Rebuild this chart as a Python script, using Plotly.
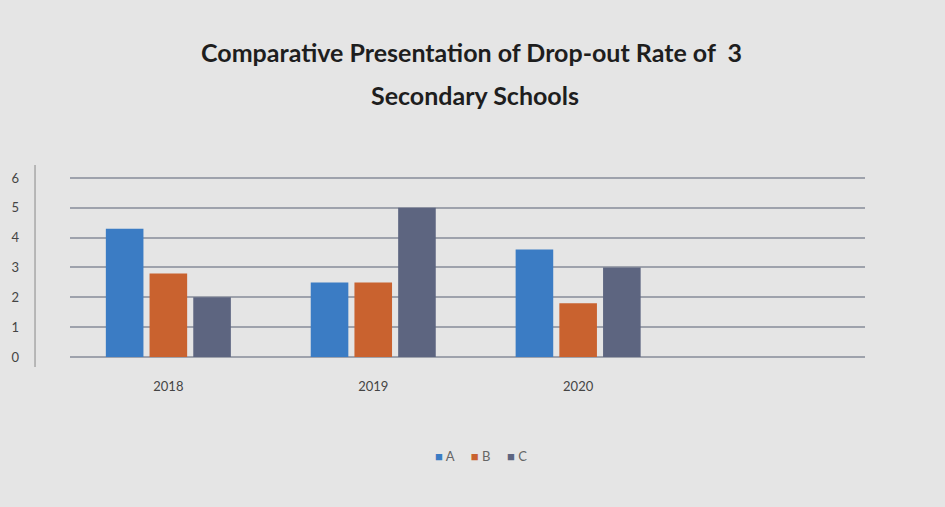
import plotly.graph_objects as go

years = ["2018", "2019", "2020"]
school_a = [4.3, 2.5, 3.6]
school_b = [2.8, 2.5, 1.8]
school_c = [2.0, 5.0, 3.0]
series_names = ["A", "B", "C"]
colors = ["#3b7cc4", "#c9622f", "#5d6580"]

fig = go.Figure()
for name, vals, col in zip(series_names, [school_a, school_b, school_c], colors):
    fig.add_trace(go.Bar(x=years, y=vals, name=name, marker_color=col,
                         marker_line_width=0))

T, B = 175, 150
PH = 507 - T - B

fig.update_layout(
    width=945, height=507,
    margin=dict(l=70, r=80, t=T, b=B),
    paper_bgcolor="#e5e5e5",
    plot_bgcolor="#e5e5e5",
    font=dict(family="Lato, Open Sans, sans-serif", color="#444444"),
    showlegend=False,
    barmode="group", bargap=0.36, bargroupgap=0.14,
    xaxis=dict(type="category", range=[-0.48, 3.4], showgrid=False, zeroline=False,
               ticks="outside", ticklen=17, tickcolor="rgba(0,0,0,0)",
               tickfont=dict(size=13, color="#444444")),
    yaxis=dict(range=[0, 6.1], tickvals=[0, 1, 2, 3, 4, 5, 6], showgrid=True,
               gridcolor="#9ea2ac", gridwidth=1.5,
               zeroline=True, zerolinecolor="#9ea2ac", zerolinewidth=1.5,
               ticklabelstandoff=50, tickfont=dict(size=13, color="#444444")),
)

def py(pix):
    return (507 - B - pix) / PH

# Title (two lines, placed like the reference)
fig.add_annotation(text="<b>Comparative Presentation of Drop-out Rate of  3</b>",
                   xref="paper", yref="paper", x=(471 - 70) / 795, y=py(52),
                   xanchor="center", yanchor="middle", showarrow=False,
                   font=dict(size=25, color="#1e1e1e", family="Lato, sans-serif"))
fig.add_annotation(text="<b>Secondary Schools</b>",
                   xref="paper", yref="paper", x=(475 - 70) / 795, y=py(95),
                   xanchor="center", yanchor="middle", showarrow=False,
                   font=dict(size=25, color="#1e1e1e", family="Lato, sans-serif"))

# Legend drawn as a compact text row
legend_txt = "&nbsp;&nbsp;&nbsp;&nbsp;&nbsp;".join(
    f"<span style='color:{c}'>■</span>&nbsp;{n}" for n, c in zip(series_names, colors))
fig.add_annotation(text=legend_txt, xref="paper", yref="paper",
                   x=(481 - 70) / 795, y=py(456),
                   xanchor="center", yanchor="middle", showarrow=False,
                   font=dict(size=13, color="#666666", family="Lato, sans-serif"))

fig.add_shape(type="line", xref="paper", yref="paper", x0=-0.044, x1=-0.044,
              y0=py(367), y1=py(165), line=dict(color="#8a8a8a", width=1))

fig.write_html("out.html")
